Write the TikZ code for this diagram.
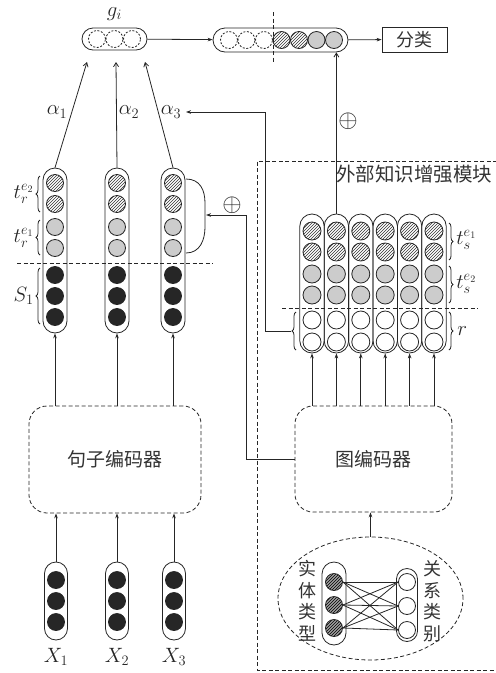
\documentclass[tikz,border=0pt]{standalone}
\usepackage{fontspec}
\usepackage{tikz}
\usetikzlibrary{arrows.meta,patterns,decorations.pathreplacing,shapes.geometric}
\newfontfamily\cjk{Noto Sans CJK SC}
\newcommand{\zhbig}{\cjk\fontsize{19}{22}\selectfont}
\newcommand{\zhvert}{\cjk\fontsize{18}{21.5}\selectfont}
\newcommand{\mlab}{\fontsize{20}{24}\selectfont}
\tikzset{
  pillbox/.style={draw,rounded corners=#1,inner sep=0pt},
  pillbox/.default=12pt,
  unit/.style={circle,draw,inner sep=0pt,minimum size=17pt},
  blk/.style={unit,fill=black!85},
  gry/.style={unit,fill=gray!40},
  hat/.style={unit,pattern=north east lines,pattern color=black!80},
  ehat/.style={unit,preaction={fill=gray!75},pattern=north east lines,pattern color=black},
  emp/.style={unit},
  dsh/.style={unit,dash pattern=on 2pt off 1.6pt},
  dashline/.style={dash pattern=on 4pt off 2.5pt},
  encbox/.style={draw,dashline,rounded corners=18pt,inner sep=0pt,font=\zhbig,text=black!80},
  arr/.style={-{Stealth[length=5pt,width=3.6pt]}},
  barb/.style={-{Straight Barb[length=4pt,width=5pt]}},
  mathlab/.style={font=\mlab,text=black!85,inner sep=1pt},
  plus/.style={font=\fontsize{25}{28}\selectfont,text=black!85,inner sep=0pt},
  brk/.style={decorate,decoration={brace,amplitude=4pt}},
}
\newcommand{\leftbrk}[3]{\draw[brk] (#1,#3) -- (#1,#2);}
\newcommand{\rightbrk}[3]{\draw[brk] (#1,#2) -- (#1,#3);}

\begin{document}
\begin{tikzpicture}[x=1pt,y=-1pt,line width=0.8pt,draw=black!85]
  \useasboundingbox (0,0) rectangle (496,673);
  % top vectors
  \node[pillbox=11pt,minimum width=65pt,minimum height=22pt] (gvec) at (114.5,39) {};
  \foreach \x [count=\k] in {97,114.5,132}
    \node[dsh] (g-\k) at (\x,39) {};
  \node[mathlab] (glab) at (114.5,14) {$g_i$};
  \node[pillbox=12pt,minimum width=135pt,minimum height=24pt] (cvec) at (280.5,40) {};
  \foreach \s [count=\k] in {dsh,dsh,dsh,hat,hat,gry,gry}
    \node[\s] (cv-\k) at ({229+17.5*(\k-1)},40) {};
  \draw[dashline] (273,12) -- (273,62);
  \node[draw,minimum width=65pt,minimum height=25pt,inner sep=0pt,font=\cjk\fontsize{18}{20}\selectfont,text=black!80] (cls) at (414.5,39.5) {分类};
  \draw[arr] (gvec) -- (cvec);
  \draw[arr] (cvec) -- (cls);
  % sentence columns
  \foreach \n/\x in {1/55,2/117,3/173}{
    \node[pillbox,minimum width=24pt,minimum height=165pt] (c\n) at (\x,250.5) {};
    \foreach \y/\s [count=\k] in {183/hat,204/hat,227/gry,248/gry,275/blk,296/blk,317/blk}
      \node[\s] (c\n-\k) at (\x,\y) {};
  }
  \draw[dashline] (17,263) -- (213,263);
  \leftbrk{40}{176}{212} \leftbrk{40}{220}{255} \leftbrk{40}{268}{324}
  \node[mathlab,anchor=east] (tre2) at (35,194) {$t_r^{e_2}$};
  \node[mathlab,anchor=east] (tre1) at (35,238) {$t_r^{e_1}$};
  \node[mathlab,anchor=east] (s1) at (35,296) {$S_1$};
  \draw (186,179) .. controls (200,179) and (205,190) .. (205,203) -- (205,227)
    .. controls (205,240) and (200,253) .. (186,253);
  % attention arrows
  \coordinate (ga1) at (87,62);
  \coordinate (ga2) at (116,62);
  \coordinate (ga3) at (145,62);
  \draw[barb] (c1.north) -- (ga1);
  \draw[barb] (c2.north) -- (ga2);
  \draw[barb] (c3.north) -- (ga3);
  \node[mathlab] (al1) at (57,112) {$\alpha_1$};
  \node[mathlab] (al2) at (129,112) {$\alpha_2$};
  \node[mathlab] (al3) at (171,112) {$\alpha_3$};
  % knowledge module
  \draw[dashline] (497,161) -- (257,161) -- (257,670) -- (497,670);
  \node[font=\cjk\fontsize{19.5}{22}\selectfont,text=black!80,anchor=west,inner sep=0pt] (modlab) at (336,174) {外部知识增强模块};
  \foreach \n [evaluate=\n as \x using 312+24.4*(\n-1)] in {1,...,6}{
    \node[pillbox=12.2pt,minimum width=24.4pt,minimum height=139pt] (b\n) at (\x,283.5) {};
    \foreach \y/\s [count=\k] in {231/hat,252/hat,274/gry,295/gry,320/emp,342/emp}
      \node[\s,minimum size=18pt] (b\n-\k) at (\x,\y) {};
  }
  \draw[dashline] (282,308) -- (478,308);
  \rightbrk{449}{223}{260} \rightbrk{449}{266}{303} \rightbrk{449}{312}{350}
  \draw[brk] (296,350) -- (296,312);
  \node[mathlab,anchor=west] (tse1) at (455,240) {$t_s^{e_1}$};
  \node[mathlab,anchor=west] (tse2) at (455,284) {$t_s^{e_2}$};
  \node[mathlab,anchor=west] (rlab) at (456,331) {$r$};
  \coordinate (rbrk) at (291,331);
  \coordinate (bendB) at (265,112);
  \coordinate (a3in) at (186,112);
  \draw[arr] (rbrk) -| (bendB) -- (a3in);
  \draw[barb] (b2.north) -- (b2.north |- cvec.south);
  \node[plus] (plusA) at (348,121) {$\oplus$};
  % encoders
  \node[encbox,minimum width=172pt,minimum height=107pt] (senc) at (115,459.5) {句子编码器};
  \node[encbox,minimum width=157pt,minimum height=106pt] (genc) at (373.5,459) {图编码器};
  \foreach \n in {1,2,3}
    \draw[arr] (senc.north -| c\n.south) -- (c\n.south);
  \foreach \n in {1,...,6}
    \draw[arr] (genc.north -| b\n.south) -- (b\n.south);
  \coordinate (bendA) at (246,215);
  \coordinate (brkA) at (206,215);
  \draw[arr] (genc.west) -| (bendA) -- (brkA);
  \node[plus] (plusB) at (232,205) {$\oplus$};
  % inputs
  \foreach \n/\x in {1/56,2/117,3/174}{
    \node[pillbox=11.5pt,minimum width=23pt,minimum height=78pt] (x\n) at (\x,601) {};
    \foreach \y [count=\k] in {580,601,622}
      \node[blk] (x\n-\k) at (\x,\y) {};
    \node[mathlab] (xl\n) at (\x,657) {$X_\n$};
    \draw[arr] (x\n.north) -- (x\n.north |- senc.south);
  }
  % knowledge graph
  \node[ellipse,draw,dashline,minimum width=185pt,minimum height=123pt] (kg) at (370.5,598.5) {};
  \draw[arr] (kg.north) -- (kg.north |- genc.south);
  \node[pillbox,minimum width=24pt,minimum height=83pt] (ent) at (334,603.5) {};
  \node[pillbox=10.5pt,minimum width=21pt,minimum height=73pt] (rel) at (407,605) {};
  \foreach \y [count=\k] in {582,605,628}
    \node[ehat] (e\k) at (334,\y) {};
  \foreach \y [count=\k] in {582,606,630}
    \node[emp] (r\k) at (407,\y) {};
  \foreach \i in {1,2,3}{\foreach \j in {1,2,3}{\draw (e\i.east) -- (r\j.west);}}
  \node[font=\zhvert,text=black!80,align=center,inner sep=0pt] (entlab) at (307,601) {实\\体\\类\\型};
  \node[font=\zhvert,text=black!80,align=center,inner sep=0pt] (rellab) at (432,601) {关\\系\\类\\别};
\end{tikzpicture}
\end{document}
